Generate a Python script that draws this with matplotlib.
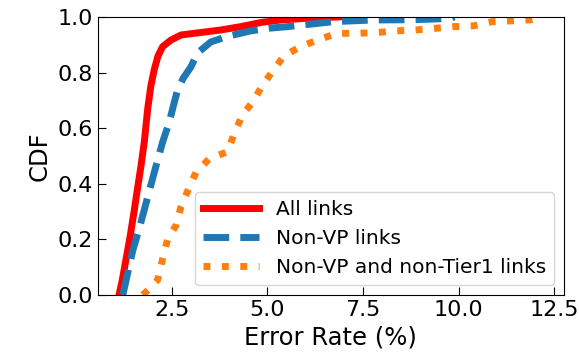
import matplotlib
matplotlib.use("Agg")
import matplotlib.pyplot as plt

# CDF curves: error rate (%) vs cumulative fraction
all_x = [1.12, 1.2, 1.3, 1.41, 1.52, 1.6, 1.69, 1.78, 1.87, 1.95, 2.04, 2.14,
         2.26, 2.48, 2.74, 3.26, 3.78, 4.3, 4.83, 5.35, 6.0, 6.86]
all_y = [0.0, 0.05, 0.126, 0.21, 0.306, 0.38, 0.46, 0.55, 0.67, 0.75, 0.81,
         0.86, 0.893, 0.917, 0.935, 0.944, 0.953, 0.965, 0.98, 0.989, 0.995, 1.0]

nonvp_x = [1.22, 1.3, 1.48, 1.63, 1.78, 2.04, 2.26, 2.43, 2.56, 2.65, 2.8,
           3.0, 3.17, 3.52, 3.96, 4.57, 5.1, 5.52, 6.73, 7.78, 8.82, 9.66, 9.9]
nonvp_y = [0.0, 0.05, 0.16, 0.23, 0.306, 0.44, 0.55, 0.62, 0.69, 0.737, 0.78,
           0.82, 0.87, 0.91, 0.93, 0.95, 0.96, 0.965, 0.983, 0.989, 0.99, 0.994,
           1.0]

nontier1_x = [1.74, 1.9, 2.13, 2.26, 2.39, 2.61, 2.74, 2.95, 3.13, 3.48, 3.96,
              4.13, 4.35, 4.65, 4.87, 5.17, 5.43, 5.87, 6.31, 6.83, 7.35, 7.87,
              8.39, 8.87, 9.40, 9.87, 10.4, 10.88, 11.4, 11.92, 12.2]
nontier1_y = [0.0, 0.02, 0.054, 0.13, 0.2, 0.25, 0.317, 0.385, 0.44, 0.49,
              0.515, 0.58, 0.648, 0.70, 0.755, 0.81, 0.86, 0.893, 0.917, 0.941,
              0.941, 0.944, 0.95, 0.953, 0.959, 0.965, 0.968, 0.983, 0.986, 0.99,
              1.0]

fig = plt.figure(figsize=(5.79, 3.6), dpi=100)
ax = fig.add_axes([0.169, 0.181, 0.805, 0.772])

ax.plot(all_x, all_y, color='red', linestyle='-', linewidth=5, label='All links')
ax.plot(nonvp_x, nonvp_y, color='C0', linestyle='--', linewidth=5, label='Non-VP links')
ax.plot(nontier1_x, nontier1_y, color='C1', linestyle=':', linewidth=5,
        label='Non-VP and non-Tier1 links')

ax.set_ylim(0, 1.0)
ax.set_xticks([2.5, 5.0, 7.5, 10.0, 12.5])
ax.set_yticks([0.0, 0.2, 0.4, 0.6, 0.8, 1.0])
ax.tick_params(direction='in', length=6, labelsize=16)
ax.set_xlabel('Error Rate (%)', fontsize=17.5)
ax.set_ylabel('CDF', fontsize=17.5)
ax.legend(loc='lower right', fontsize=14.5, handlelength=2.8)

fig.savefig('out.png', dpi=100)
